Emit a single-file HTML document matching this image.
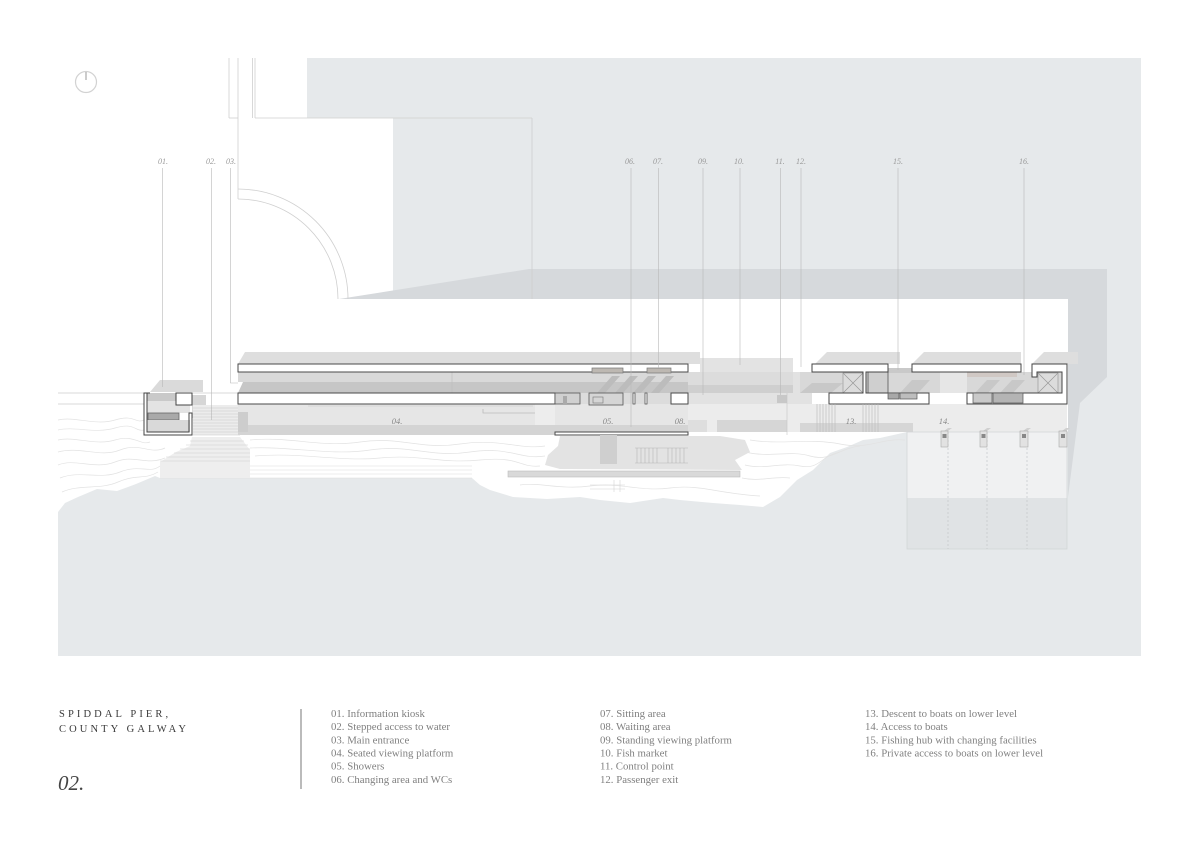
<!DOCTYPE html>
<html><head><meta charset="utf-8">
<style>
html,body{margin:0;padding:0;background:#fff;}
svg{display:block}
</style></head><body>
<svg width="1200" height="848" viewBox="0 0 1200 848" xmlns="http://www.w3.org/2000/svg">
<rect width="1200" height="848" fill="#fff"/>
<!-- sea -->
<rect x="58" y="58" width="1083" height="598" fill="#e6e9eb"/>
<!-- land -->
<polygon fill="#fff" points="58,58 307,58 307,118 393,118 393,299 1068,299 1068,432 907,432 880,438 863,440 847,447 830,453 813,470 797,480 780,497 763,507 740,505 713,503 680,500 663,498 630,503 600,500 580,497 547,499 513,497 490,490 480,485 472,478 160,478 155,476 136,484 117,491 97,489 78,497 65,503 58,512"/>
<!-- dark band / pier shadow -->
<polygon fill="#d6d9dc" points="339,299 529,269 1107,269 1107,377 1080,403 1068,497 1068,299"/>

<!-- top-left lines -->
<g stroke="#cfcfcf" stroke-width="0.8" fill="none">
<line x1="229" y1="58" x2="229" y2="118"/>
<line x1="229" y1="118" x2="238" y2="118"/>
<line x1="238" y1="58" x2="238" y2="199"/>
<line x1="252.5" y1="58" x2="252.5" y2="118"/>
<line x1="255" y1="58" x2="255" y2="118"/>
<line x1="255" y1="118" x2="532" y2="118"/>
<line x1="532" y1="118" x2="532" y2="299"/>
<path d="M238,189 A110,110 0 0 1 348,299"/>
<path d="M238,199 A100,100 0 0 1 338,299"/>
</g>

<!-- compass -->
<circle cx="86" cy="82" r="10.5" fill="none" stroke="#d2d2d2" stroke-width="1.2"/>
<line x1="86" y1="72" x2="86" y2="80" stroke="#999" stroke-width="1"/>

<!-- contour lines on land -->
<g stroke="#e2e2e2" stroke-width="0.7" fill="none">
<path d="M58,420 C75,416 95,426 115,420 S135,424 144,420"/>
<path d="M58,430 C75,426 95,434 115,428 S135,432 144,430"/>
<path d="M58,440 C75,436 95,446 115,440 S140,446 150,442"/>
<path d="M58,452 C80,446 100,458 120,450 S150,455 165,448"/>
<path d="M58,465 C75,458 95,470 115,462 S145,466 165,458"/>
<path d="M60,478 C80,470 100,480 120,472 S150,474 160,466"/>
<path d="M62,492 C80,484 100,490 118,482 S145,480 158,472"/>
<path d="M250,440 C290,436 320,448 360,442 S420,450 460,444 S520,450 545,446"/>
<path d="M250,448 C290,446 330,456 370,450 S430,458 470,452 S520,460 545,456"/>
<path d="M255,456 C300,452 340,462 380,458 S440,464 480,460 S520,468 540,466"/>
<path d="M750,440 C780,445 810,438 840,444 S880,438 905,440"/>
<path d="M745,452 C770,458 790,450 810,456 S840,448 860,446"/>
<path d="M745,465 C765,470 780,462 800,466 S820,456 840,452"/>
<path d="M742,478 C760,482 772,476 790,478"/>
<path d="M520,485 C540,482 560,490 590,486 S640,492 670,488 S720,494 760,496"/>
</g>
<g stroke="#dcdcdc" stroke-width="0.6">
<line x1="160" y1="466" x2="472" y2="466"/>
<line x1="160" y1="470" x2="472" y2="470"/>
<line x1="160" y1="474" x2="472" y2="474"/>
<line x1="160" y1="478" x2="472" y2="478"/>
</g>

<!-- stepped access lower -->
<polygon points="192,437 240,437 250,450 250,478 160,478 160,462 176,452 190,446" fill="#eeeeee"/>
<g stroke="#d0d0d0" stroke-width="0.6">
<line x1="190" y1="441" x2="244" y2="441"/><line x1="186" y1="445" x2="248" y2="445"/>
<line x1="180" y1="449" x2="250" y2="449"/><line x1="174" y1="453" x2="250" y2="453"/>
<line x1="166" y1="457" x2="250" y2="457"/><line x1="160" y1="461" x2="250" y2="461"/>
</g>

<!-- left horizontal lines -->
<g stroke="#cccccc" stroke-width="0.7">
<line x1="58" y1="393" x2="144" y2="393"/>
<line x1="58" y1="404" x2="144" y2="404"/>
<line x1="192" y1="393" x2="238" y2="393"/>
</g>

<!-- kiosk -->
<polygon points="150,392 160,380 203,380 203,392" fill="#dadada"/>
<rect x="192" y="395" width="14" height="23" fill="#d6d6d6"/>
<rect x="147" y="393" width="29" height="8" fill="#c9c9c9"/>
<rect x="147" y="401" width="43" height="12" fill="#e3e3e3"/>
<rect x="148" y="413" width="31" height="7" fill="#a9a9a9" stroke="#666" stroke-width="0.8"/>
<rect x="147" y="420" width="43" height="12" fill="#d9d9d9"/>
<rect x="176" y="393" width="16" height="12" fill="#fff" stroke="#444" stroke-width="1"/>
<path d="M150,393 H144 V435 H192 V413 H189 V432 H147 V393" fill="none" stroke="#444" stroke-width="1"/>
<!-- stairs 02 -->
<rect x="193" y="405" width="47" height="30" fill="#ececec"/>
<g stroke="#c8c8c8" stroke-width="0.6">
<line x1="193" y1="408" x2="240" y2="408"/><line x1="193" y1="411" x2="240" y2="411"/>
<line x1="193" y1="414" x2="240" y2="414"/><line x1="193" y1="417" x2="240" y2="417"/>
<line x1="193" y1="420" x2="240" y2="420"/><line x1="193" y1="423" x2="240" y2="423"/>
<line x1="193" y1="426" x2="240" y2="426"/><line x1="193" y1="429" x2="240" y2="429"/>
<line x1="193" y1="432" x2="240" y2="432"/><line x1="193" y1="435" x2="240" y2="435"/>
</g>

<!-- main building left/middle -->
<polygon points="245,352 700,352 700,364 238,364" fill="#dedede"/>
<rect x="700" y="358" width="93" height="14" fill="#e3e3e3"/>
<rect x="238" y="372" width="450" height="10" fill="#d9d9d9"/>
<polygon points="243,382 688,382 688,393 238,393" fill="#c6c6c6"/>
<line x1="452" y1="372" x2="452" y2="393" stroke="#bdbdbd" stroke-width="0.6"/>
<!-- sawtooth shadows -->
<g fill="#bcbcbc">
<polygon points="597,393 612,376 620,376 605,393"/>
<polygon points="615,393 630,376 638,376 623,393"/>
<polygon points="633,393 648,376 656,376 641,393"/>
<polygon points="651,393 666,376 674,376 659,393"/>
</g>
<rect x="688" y="372" width="105" height="13" fill="#dcdcdc"/>
<rect x="688" y="385" width="105" height="8" fill="#cfcfcf"/>
<rect x="793" y="372" width="19" height="21" fill="#e2e2e2"/>
<rect x="688" y="393" width="124" height="11" fill="#e2e2e2"/>
<!-- seating area -->
<rect x="238" y="404" width="450" height="21" fill="#e6e6e6"/>
<rect x="238" y="425" width="450" height="10" fill="#d4d4d4"/>
<rect x="238" y="412" width="10" height="20" fill="#cdcdcd"/>
<line x1="308" y1="406" x2="533" y2="406" stroke="#cfcfcf" stroke-width="0.8"/>
<path d="M483,409 V413 H535" fill="none" stroke="#bbb" stroke-width="0.8"/>
<rect x="535" y="404" width="20" height="21" fill="#ededed"/>
<rect x="555" y="393" width="133" height="11" fill="#dcdcdc"/>
<!-- right continuation lower -->
<rect x="688" y="404" width="379" height="28" fill="#ececec"/>
<rect x="717" y="420" width="70" height="12" fill="#d6d6d6"/>
<rect x="688" y="420" width="19" height="12" fill="#dedede"/>
<rect x="777" y="395" width="10" height="8" fill="#c8c8c8"/>
<line x1="787" y1="393" x2="787" y2="435" stroke="#c5c5c5" stroke-width="0.6"/>

<!-- bars -->
<rect x="238" y="364" width="450" height="8" fill="#fff" stroke="#4a4a4a" stroke-width="1"/>
<rect x="238" y="393" width="317" height="11" fill="#fff" stroke="#4a4a4a" stroke-width="1"/>
<rect x="555" y="432" width="133" height="3" fill="#fff" stroke="#4a4a4a" stroke-width="1"/>
<rect x="592" y="368" width="31" height="5" fill="#bdb8b2" stroke="#777" stroke-width="0.7"/>
<rect x="647" y="368" width="24" height="5" fill="#bdb8b2" stroke="#777" stroke-width="0.7"/>
<!-- rooms -->
<rect x="555" y="393" width="25" height="11" fill="#d0d0d0" stroke="#555" stroke-width="0.8"/>
<rect x="563" y="396" width="4" height="8" fill="#aaa"/>
<rect x="589" y="393" width="34" height="12" fill="#d5d5d5" stroke="#555" stroke-width="0.8"/>
<rect x="593" y="397" width="10" height="6" fill="none" stroke="#777" stroke-width="0.6"/>
<rect x="633" y="393" width="2" height="11" fill="#fff" stroke="#555" stroke-width="0.8"/>
<rect x="645" y="393" width="2" height="11" fill="#fff" stroke="#555" stroke-width="0.8"/>
<rect x="671" y="393" width="17" height="11" fill="#fff" stroke="#4a4a4a" stroke-width="1"/>

<!-- promontory -->
<polygon points="560,436 720,436 745,440 750,452 735,460 742,470 560,469 545,465 548,455 558,446" fill="#e3e3e3"/>
<rect x="600" y="435" width="17" height="29" fill="#cfcfcf"/>
<g stroke="#b5b5b5" stroke-width="0.6">
<line x1="635" y1="448" x2="688" y2="448"/><line x1="635" y1="463" x2="688" y2="463"/>
<line x1="637" y1="448" x2="637" y2="463"/><line x1="641" y1="448" x2="641" y2="463"/>
<line x1="645" y1="448" x2="645" y2="463"/><line x1="649" y1="448" x2="649" y2="463"/>
<line x1="653" y1="448" x2="653" y2="463"/><line x1="657" y1="448" x2="657" y2="463"/>
<line x1="668" y1="448" x2="668" y2="463"/><line x1="672" y1="448" x2="672" y2="463"/>
<line x1="676" y1="448" x2="676" y2="463"/><line x1="680" y1="448" x2="680" y2="463"/>
<line x1="684" y1="448" x2="684" y2="463"/>
</g>
<rect x="508" y="471" width="232" height="6" fill="#d9d9d9" stroke="#bdbdbd" stroke-width="0.6"/>
<g stroke="#d4d4d4" stroke-width="0.6">
<line x1="590" y1="485" x2="625" y2="485"/><line x1="590" y1="489" x2="625" y2="489"/>
<line x1="620" y1="480" x2="620" y2="492"/><line x1="614" y1="480" x2="614" y2="492"/>
</g>

<!-- right section -->
<polygon points="815,364 827,352 900,352 900,364" fill="#dedede"/>
<polygon points="912,364 924,352 1021,352 1021,364" fill="#dedede"/>
<polygon points="1032,364 1044,352 1078,352 1078,364" fill="#dedede"/>
<rect x="800" y="372" width="267" height="21" fill="#d8d8d8"/>
<rect x="888" y="368" width="24" height="5" fill="#c9c9c9"/>
<rect x="940" y="372" width="27" height="21" fill="#e6e6e6"/>
<rect x="967" y="372" width="50" height="5" fill="#d0c8c4"/>
<g fill="#c8c8c8">
<polygon points="800,393 812,383 843,383 831,393"/>
<polygon points="900,393 912,380 930,380 918,393"/>
<polygon points="975,393 987,380 1000,380 988,393"/>
<polygon points="1000,393 1012,380 1025,380 1013,393"/>
</g>
<!-- stair rooms -->
<g stroke="#9a9a9a" stroke-width="0.7">
<rect x="843" y="373" width="20" height="20" fill="#dcdcdc"/>
<line x1="843" y1="373" x2="863" y2="393"/><line x1="863" y1="373" x2="843" y2="393"/>
<rect x="1038" y="373" width="20" height="20" fill="#dcdcdc"/>
<line x1="1038" y1="373" x2="1058" y2="393"/><line x1="1058" y1="373" x2="1038" y2="393"/>
</g>
<rect x="868" y="372" width="20" height="21" fill="#cfcfcf" stroke="#555" stroke-width="0.8"/>
<!-- building outlines -->
<polygon points="812,364 888,364 888,372 866,372 866,393 929,393 929,404 829,404 829,393 863,393 863,372 812,372" fill="#fff" stroke="#444" stroke-width="1"/>
<rect x="912" y="364" width="109" height="8" fill="#fff" stroke="#444" stroke-width="1"/>
<polygon points="1032,364 1067,364 1067,404 967,404 967,393 1062,393 1062,372 1037,372 1037,377 1032,377" fill="#fff" stroke="#444" stroke-width="1"/>
<rect x="888" y="393" width="11" height="6" fill="#a8a8a8" stroke="#555" stroke-width="0.7"/>
<rect x="900" y="393" width="17" height="6" fill="#bdbdbd" stroke="#555" stroke-width="0.7"/>
<rect x="973" y="393" width="19" height="10" fill="#c9c9c9" stroke="#555" stroke-width="0.7"/>
<rect x="993" y="393" width="30" height="10" fill="#b4b4b4" stroke="#555" stroke-width="0.7"/>
<!-- lower right -->
<rect x="800" y="423" width="113" height="9" fill="#d6d6d6"/>
<g stroke="#b9b9b9" stroke-width="0.6">
<line x1="817" y1="404" x2="817" y2="432"/><line x1="820" y1="404" x2="820" y2="432"/>
<line x1="823" y1="404" x2="823" y2="432"/><line x1="826" y1="404" x2="826" y2="432"/>
<line x1="829" y1="404" x2="829" y2="432"/><line x1="832" y1="404" x2="832" y2="432"/>
<line x1="835" y1="404" x2="835" y2="432"/>
<line x1="863" y1="404" x2="863" y2="432"/><line x1="866" y1="404" x2="866" y2="432"/>
<line x1="869" y1="404" x2="869" y2="432"/><line x1="872" y1="404" x2="872" y2="432"/>
<line x1="875" y1="404" x2="875" y2="432"/><line x1="878" y1="404" x2="878" y2="432"/>
</g>
<!-- boat access -->
<rect x="907" y="432" width="160" height="66" fill="#f0f1f2"/>
<rect x="907" y="498" width="160" height="51" fill="#e0e3e5"/>
<rect x="907" y="432" width="160" height="117" fill="none" stroke="#d0d3d5" stroke-width="0.7"/>
<g stroke="#c4c7c9" stroke-width="0.7" stroke-dasharray="2,2">
<line x1="948" y1="432" x2="948" y2="549"/>
<line x1="987" y1="432" x2="987" y2="549"/>
<line x1="1027" y1="432" x2="1027" y2="549"/>
</g>
<g>
<polygon points="944,431 948,428 952,428 948,431" fill="#d0d0d0"/>
<rect x="941" y="431" width="7" height="16" fill="#e2e2e2" stroke="#aaa" stroke-width="0.6"/>
<rect x="942.5" y="434" width="4" height="4" fill="#888"/>
<polygon points="983,431 987,428 991,428 987,431" fill="#d0d0d0"/>
<rect x="980" y="431" width="7" height="16" fill="#e2e2e2" stroke="#aaa" stroke-width="0.6"/>
<rect x="981.5" y="434" width="4" height="4" fill="#888"/>
<polygon points="1023,431 1027,428 1031,428 1027,431" fill="#d0d0d0"/>
<rect x="1020" y="431" width="8" height="16" fill="#e2e2e2" stroke="#aaa" stroke-width="0.6"/>
<rect x="1022" y="434" width="4" height="4" fill="#888"/>
<polygon points="1062,431 1066,428 1070,428 1066,431" fill="#d0d0d0"/>
<rect x="1059" y="431" width="8" height="16" fill="#e2e2e2" stroke="#aaa" stroke-width="0.6"/>
<rect x="1061" y="434" width="4" height="4" fill="#888"/>
</g>

<!-- leader lines -->
<g stroke="#b8b8b8" stroke-width="0.6" fill="none">
<line x1="162.5" y1="168" x2="162.5" y2="387"/>
<line x1="211.5" y1="168" x2="211.5" y2="420"/>
<path d="M230.5,168 V383 H238"/>
<line x1="631" y1="168" x2="631" y2="427"/>
<line x1="658.5" y1="168" x2="658.5" y2="368"/>
<line x1="703" y1="168" x2="703" y2="395"/>
<line x1="740" y1="168" x2="740" y2="365"/>
<line x1="780.5" y1="168" x2="780.5" y2="395"/>
<line x1="801" y1="168" x2="801" y2="367"/>
<line x1="898" y1="168" x2="898" y2="370"/>
<line x1="1024" y1="168" x2="1024" y2="375"/>
</g>
<g font-family="Liberation Serif, serif" font-style="italic" font-size="8" fill="#999" text-anchor="middle">
<text x="163" y="164">01.</text>
<text x="211" y="164">02.</text>
<text x="231" y="164">03.</text>
<text x="630" y="164">06.</text>
<text x="658" y="164">07.</text>
<text x="703" y="164">09.</text>
<text x="739" y="164">10.</text>
<text x="780" y="164">11.</text>
<text x="801" y="164">12.</text>
<text x="898" y="164">15.</text>
<text x="1024" y="164">16.</text>
</g>
<g font-family="Liberation Serif, serif" font-style="italic" font-size="8.5" fill="#888" text-anchor="middle">
<text x="397" y="424">04.</text>
<text x="608" y="424">05.</text>
<text x="680" y="424">08.</text>
<text x="851" y="424">13.</text>
<text x="944" y="424">14.</text>
</g>

<!-- title block -->
<g font-family="Liberation Serif, serif" fill="#3a3a3a" font-size="10.5" letter-spacing="3.1">
<text x="59" y="717">SPIDDAL PIER,</text>
<text x="59" y="732">COUNTY GALWAY</text>
</g>
<text x="58" y="790" font-family="Liberation Serif, serif" font-style="italic" font-size="21" fill="#444">02.</text>
<line x1="301" y1="709" x2="301" y2="789" stroke="#777" stroke-width="1"/>
<g font-family="Liberation Serif, serif" font-size="10.8" fill="#808080">
<text x="331" y="717">01. Information kiosk</text>
<text x="331" y="730">02. Stepped access to water</text>
<text x="331" y="743.5">03. Main entrance</text>
<text x="331" y="756.5">04. Seated viewing platform</text>
<text x="331" y="769.5">05. Showers</text>
<text x="331" y="783">06. Changing area and WCs</text>
<text x="600" y="717">07. Sitting area</text>
<text x="600" y="730">08. Waiting area</text>
<text x="600" y="743.5">09. Standing viewing platform</text>
<text x="600" y="756.5">10. Fish market</text>
<text x="600" y="769.5">11. Control point</text>
<text x="600" y="783">12. Passenger exit</text>
<text x="865" y="717">13. Descent to boats on lower level</text>
<text x="865" y="730">14. Access to boats</text>
<text x="865" y="743.5">15. Fishing hub with changing facilities</text>
<text x="865" y="756.5">16. Private access to boats on lower level</text>
</g>
</svg>
</body></html>
